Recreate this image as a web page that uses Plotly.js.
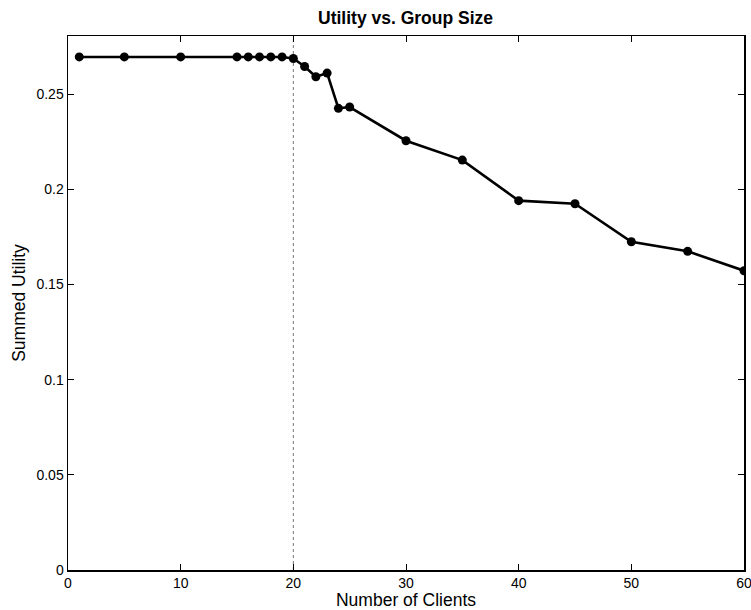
<!DOCTYPE html>
<html>
<head>
<meta charset="utf-8">
<script src="https://cdn.plot.ly/plotly-3.0.1.min.js"></script>
<style>html,body{margin:0;padding:0;background:#fff;}#chart{width:751px;height:610px;}</style>
</head>
<body>
<div id="chart"></div>
<script>
const clients = [1, 5, 10, 15, 16, 17, 18, 19, 20, 21, 22, 23, 24, 25, 30, 35, 40, 45, 50, 55, 60];
const utility = [0.2695, 0.2695, 0.2695, 0.2695, 0.2695, 0.2695, 0.2695, 0.2695, 0.2687, 0.2645, 0.2591, 0.2610, 0.2425, 0.2432, 0.2255, 0.2153, 0.1940, 0.1924, 0.1724, 0.1674, 0.1572];
const markerX = 20;
const xTicks = [0, 10, 20, 30, 40, 50, 60];
const yTicks = [0, 0.05, 0.1, 0.15, 0.2, 0.25];
const yTickLabels = ['0', '0.05', '0.1', '0.15', '0.2', '0.25'];

const fam = 'Liberation Sans, Arial, sans-serif';
const tickFont = {family: fam, size: 14, color: '#000'};
const labelFont = {family: fam, size: 17.5, color: '#000'};

const trace = {
  x: clients, y: utility, type: 'scatter', mode: 'lines+markers',
  line: {color: '#000', width: 2.6},
  marker: {color: '#000', size: 9},
  hoverinfo: 'skip'
};

const layout = {
  width: 751, height: 610,
  margin: {l: 68, r: 7, t: 36, b: 40},
  paper_bgcolor: '#fff', plot_bgcolor: '#fff',
  font: tickFont,
  showlegend: false,
  title: {text: '<b>Utility vs. Group Size</b>', x: 0.54, xanchor: 'center', y: 0.9705, yanchor: 'middle', font: {family: fam, size: 17.5, color: '#000'}},
  xaxis: {
    range: [0, 60], tickvals: xTicks, ticktext: xTicks.map(String),
    ticks: 'inside', ticklen: 6, tickwidth: 1, tickcolor: '#000',
    showline: true, linecolor: '#000', linewidth: 1.5, mirror: 'ticks',
    showgrid: false, zeroline: false, ticklabeloverflow: 'allow',
    tickfont: tickFont,
    title: {text: 'Number of Clients', font: labelFont, standoff: 0}
  },
  yaxis: {
    range: [0, 0.2805], tickvals: yTicks, ticktext: yTickLabels,
    ticks: 'inside', ticklen: 6, tickwidth: 1, tickcolor: '#000',
    showline: true, linecolor: '#000', linewidth: 1.5, mirror: 'ticks',
    showgrid: false, zeroline: false,
    tickfont: tickFont,
    title: {text: 'Summed Utility', font: labelFont, standoff: 6}
  },
  shapes: [{
    type: 'line', xref: 'x', yref: 'paper', x0: markerX, x1: markerX, y0: 0, y1: 1,
    line: {color: '#777', width: 1, dash: 'dot'}, layer: 'below'
  }]
};

Plotly.newPlot('chart', [trace], layout, {staticPlot: true, displayModeBar: false});
</script>
</body>
</html>
